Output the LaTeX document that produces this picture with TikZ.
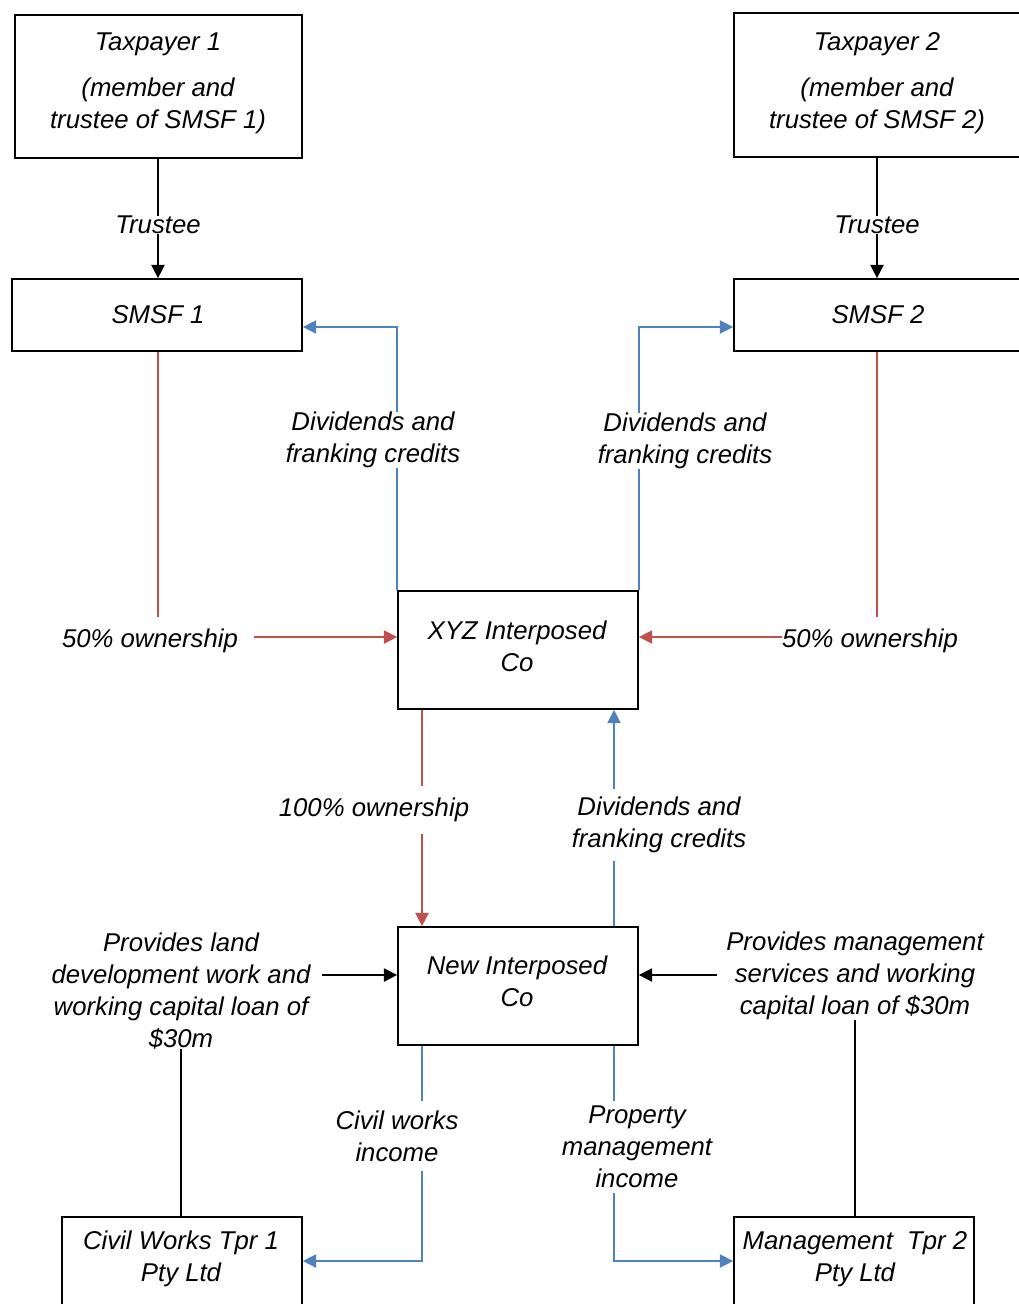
\documentclass[tikz,border=0pt]{standalone}
\usepackage{fontspec}
\setmainfont{Liberation Sans}
\usetikzlibrary{arrows.meta,fit}
\definecolor{rd}{HTML}{C0504D}
\definecolor{bl}{HTML}{4F81BD}
\begin{document}
\begin{tikzpicture}[x=0.75pt,y=-0.75pt,
  every node/.style={font=\fontsize{19.3}{24}\selectfont\itshape, align=center},
  box/.style={draw, line width=1.3pt, inner sep=0pt},
  txt/.style={inner sep=0pt, yshift=-2.25pt},
  lbl/.style={fill=white, inner sep=2pt, yshift=-2.25pt},
  tip/.style={-{Triangle[length=10pt,width=10pt]}},
  kline/.style={draw=black, line width=1.1pt, tip},
  rline/.style={draw=rd, line width=1.1pt, tip, rd},
  bline/.style={draw=bl, line width=1.1pt, tip, bl}]
\useasboundingbox (0,0) rectangle (1019,1304);
% helper levels
\coordinate (yA) at (0,637);
\coordinate (yB) at (0,327);
\coordinate (yC) at (0,975);
\coordinate (yD) at (0,1261);
\coordinate (xA) at (422,0);
\coordinate (xB) at (614,0);
\coordinate (xC) at (181,0);
\coordinate (xD) at (855,0);
\coordinate (xE) at (158,0);
\coordinate (xF) at (877,0);
% boxes
\node[box, fit={(15,15) (302,158)}] (tp1) {};
\node[box, fit={(734,13) (1021,157)}] (tp2) {};
\node[box, fit={(12,279) (302,351)}] (s1) {};
\node[box, fit={(734,279) (1021,351)}] (s2) {};
\node[box, fit={(398,591) (638,709)}] (xyz) {};
\node[box, fit={(398,927) (638,1045)}] (new) {};
\node[box, fit={(62,1217) (302,1330)}] (civ) {};
\node[box, fit={(734,1217) (974,1330)}] (mgt) {};
% box texts
\node[txt] (tp1a) at (158,41) {Taxpayer 1};
\node[txt] (tp1b) at (158,103) {(member and\\trustee of SMSF 1)};
\node[txt] (tp2a) at (877,41) {Taxpayer 2};
\node[txt] (tp2b) at (877,103) {(member and\\trustee of SMSF 2)};
\node[txt] (s1t) at (158,312) {SMSF 1};
\node[txt] (s2t) at (878,312) {SMSF 2};
\node[txt] (xyzt) at (517,643) {XYZ Interposed\\Co};
\node[txt] (newt) at (517,978) {New Interposed\\Co};
\node[txt] (civt) at (181,1256) {Civil Works Tpr 1\\Pty Ltd};
\node[txt] (mgtt) at (855,1256) {Management~ Tpr 2\\Pty Ltd};
% connectors
\draw[kline] (tp1.south -| xE) -- (s1.north -| xE);
\draw[kline] (tp2.south -| xF) -- (s2.north -| xF);
\draw[rline] (s1.south -| xE) |- (xyz.west |- yA);
\draw[rline] (s2.south -| xF) |- (xyz.east |- yA);
\draw[bline] (xyz.north west) |- (s1.east |- yB);
\draw[bline] (xyz.north east) |- (s2.west |- yB);
\draw[rline] (xyz.south -| xA) -- (new.north -| xA);
\draw[bline] (new.north -| xB) -- (xyz.south -| xB);
\draw[kline] (civ.north -| xC) |- (new.west |- yC);
\draw[kline] (mgt.north -| xD) |- (new.east |- yC);
\draw[bline] (new.south -| xA) |- (civ.east |- yD);
\draw[bline] (new.south -| xB) |- (mgt.west |- yD);
% connector labels
\node[lbl, inner ysep=0pt] (trl1) at (158,222) {Trustee};
\node[lbl, inner ysep=0pt] (trl2) at (877,222) {Trustee};
\node[lbl, inner xsep=12pt, inner ysep=9pt] (own1) at (150,638) {50\% ownership};
\node[lbl, inner xsep=0pt, inner ysep=9pt] (own2) at (870,638) {50\% ownership};
\node[lbl, inner ysep=0pt] (div1) at (373,437) {Dividends and\\franking credits};
\node[lbl, inner ysep=0pt] (div2) at (685,438) {Dividends and\\franking credits};
\node[lbl, inner ysep=9pt] (own3) at (374,807) {100\% ownership};
\node[lbl, inner ysep=6pt] (div3) at (659,822) {Dividends and\\franking credits};
\node[lbl, inner xsep=9pt, inner ysep=0pt] (prov1) at (181,988) {Provides land\\development work and\\working capital loan of\\\$30m};
\node[lbl, inner xsep=7pt, inner ysep=0pt] (prov2) at (855,973) {Provides management\\services and working\\capital loan of \$30m};
\node[lbl, inner ysep=7pt] (civinc) at (397,1133) {Civil works\\income};
\node[lbl, inner ysep=4pt] (princ) at (637,1144) {Property\\management\\income};
\end{tikzpicture}
\end{document}
